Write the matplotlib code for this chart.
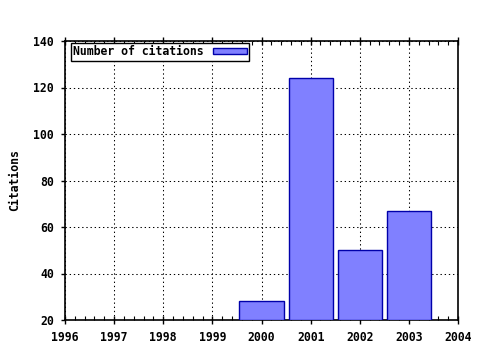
import matplotlib
matplotlib.use("Agg")
import matplotlib.pyplot as plt
from matplotlib.ticker import MultipleLocator

years = [2000, 2001, 2002, 2003]
citations = [28, 124, 50, 67]
series_label = "Number of citations"
y_label = "Citations"

plt.rcParams['font.family'] = ['DejaVu Sans Mono']
plt.rcParams['font.weight'] = 'bold'

FS = 8.3

fig = plt.figure(figsize=(4.8, 3.5), dpi=100)
ax = fig.add_axes([65/480, 1-320/350, (458-65)/480, (320-41)/350])

ax.bar(years, [c - 20 for c in citations], bottom=20, width=0.9,
       color='#8080ff', edgecolor='#0000aa', linewidth=1, label=series_label, zorder=3)

ax.set_xlim(1996, 2004)
ax.set_ylim(20, 140)
ax.xaxis.set_major_locator(MultipleLocator(1))
ax.xaxis.set_minor_locator(MultipleLocator(0.2))
ax.yaxis.set_major_locator(MultipleLocator(20))

ax.grid(True, which='major', color='black', linestyle=(0, (1.3, 2.7)), linewidth=0.75, zorder=0)
ax.set_axisbelow(True)

for s in ax.spines.values():
    s.set_linewidth(1.2)

ax.tick_params(axis='x', which='major', direction='inout', length=6, width=1, top=True, labelsize=FS, pad=5)
ax.tick_params(axis='x', which='minor', direction='in', length=3, width=0.8, top=True)
ax.tick_params(axis='y', which='major', direction='out', length=3, width=1, labelsize=FS, right=False, pad=5)

ax.set_ylabel(y_label, fontsize=FS, fontweight='bold', labelpad=9)

leg = ax.legend(loc='upper left', bbox_to_anchor=(6/393, 1-2/279), borderaxespad=0,
                markerfirst=False, fancybox=False, framealpha=1,
                edgecolor='black', fontsize=FS, borderpad=0.2, handlelength=2.9,
                handleheight=0.5, handletextpad=0.8)
leg.get_frame().set_linewidth(1)

fig.savefig("out.png", dpi=100)
